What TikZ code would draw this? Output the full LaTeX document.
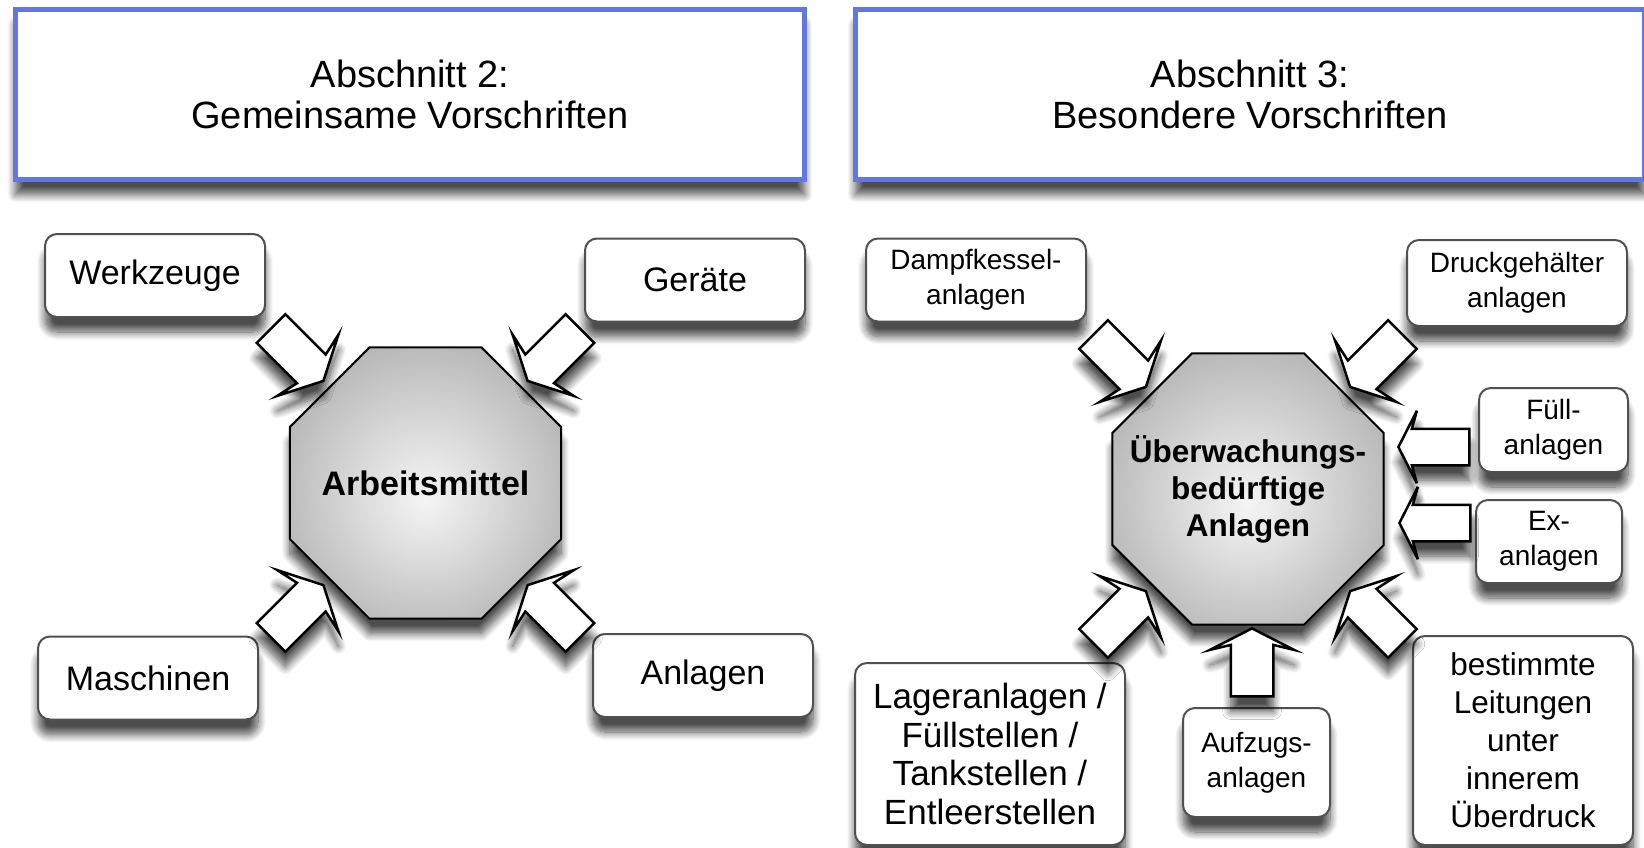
\documentclass[tikz,border=0pt]{standalone}
\usepackage{fontspec}
\setmainfont{Liberation Sans}
\usetikzlibrary{shapes.arrows, calc, shadows, shadows.blur}

\definecolor{headblue}{RGB}{98,118,228}
\definecolor{boxgray}{RGB}{80,80,80}
\pgfdeclareradialshading{hubshading}{\pgfpoint{0bp}{-3bp}}{color(0bp)=(white!96!black); color(12bp)=(white!86!black); color(30bp)=(white!70!black); color(50bp)=(white!60!black)}

\tikzset{
  soft/.style={blur shadow={shadow xshift=0pt, shadow yshift=-15pt, shadow blur radius=8pt,
    shadow blur steps=10, shadow opacity=70}},
  header/.style={draw=headblue, line width=5pt, fill=white, minimum width=789pt, minimum height=170pt,
    align=center, font=\fontsize{38}{41}\selectfont, soft},
  item/.style={draw=boxgray, line width=2pt, rounded corners=12pt, fill=white, align=center,
    inner sep=0pt, font=\fontsize{34}{40}\selectfont, soft},
  wide/.style={minimum width=220pt, minimum height=83pt},
  smalltext/.style={font=\fontsize{28}{35}\selectfont},
  hub/.style={draw=black, line width=2pt, shading=hubshading, soft},
  hubtext/.style={align=center, inner sep=0pt},
  fatarrow/.style={single arrow, draw=black, line width=2.5pt, fill=white,
    inner xsep=0pt, inner ysep=19pt, minimum height=74pt, single arrow head extend=23pt,
    single arrow tip angle=126, single arrow head indent=5pt, soft},
  flatarrow/.style={fatarrow, minimum height=71pt, inner ysep=17pt, single arrow head extend=18pt}
}
\newcommand{\octagon}[1]{%
  \draw[hub] ($(#1)+(22.5:146.7)$) \foreach \a in {67.5,112.5,...,337.5} {-- ($(#1)+(\a:146.7)$)} -- cycle;}

\begin{document}
\begin{tikzpicture}[x=1pt, y=1pt]
  \useasboundingbox (0,0) rectangle (1644,-847);
  \clip (0,0) rectangle (1644,-847);

  % Headers
  \node[header] (abs2) at (410,-94.5) {Abschnitt 2:\\Gemeinsame Vorschriften};
  \node[header] (abs3) at (1250,-94.5) {Abschnitt 3:\\Besondere Vorschriften};

  % Abschnitt 2: Arbeitsmittel
  \coordinate (arbeitMid) at (425.5,-483);
  \octagon{arbeitMid}
  \node[hubtext, font=\bfseries\fontsize{34}{40}\selectfont] (arbeit) at (arbeitMid) {Arbeitsmittel};
  \node[item, wide] (werk) at (155,-275.5) {Werkzeuge};
  \node[item, wide] (geraete) at (695,-280) {Geräte};
  \node[item, wide] (masch) at (148,-678) {Maschinen};
  \node[item, wide] (anlagen) at (703,-675.5) {Anlagen};

  \node[fatarrow, rotate=-45, anchor=tip] (inWerk) at ($(arbeitMid)+(135:143)$) {};
  \node[fatarrow, rotate=225, anchor=tip] (inGeraete) at ($(arbeitMid)+(45:143)$) {};
  \node[fatarrow, rotate=45, anchor=tip] (inMasch) at ($(arbeitMid)+(225:143)$) {};
  \node[fatarrow, rotate=135, anchor=tip] (inAnlagen) at ($(arbeitMid)+(315:143)$) {};

  % Abschnitt 3: ueberwachungsbeduerftige Anlagen
  \coordinate (ueberMid) at (1248,-489);
  \octagon{ueberMid}
  \node[hubtext, font=\bfseries\fontsize{31.5}{37}\selectfont] (ueber) at (ueberMid)
    {Überwachungs-\\bedürftige\\Anlagen};
  \node[item, wide, smalltext] (dampf) at (976,-280) {Dampfkessel-\\anlagen};
  \node[item, wide, smalltext, minimum height=86pt] (druck) at (1517,-283) {Druckgehälter\\anlagen};
  \node[item, smalltext, minimum width=149pt, minimum height=84pt] (fuell) at (1553.5,-430) {Füll-\\anlagen};
  \node[item, smalltext, minimum width=146pt, minimum height=83pt] (ex) at (1549,-541.5) {Ex-\\anlagen};
  \node[item, font=\fontsize{35}{38.5}\selectfont, minimum width=270pt, minimum height=182pt] (lager) at (990,-754)
    {Lageranlagen /\\Füllstellen /\\Tankstellen /\\Entleerstellen};
  \node[item, smalltext, minimum width=147pt, minimum height=109pt] (aufzug) at (1256.5,-762.5) {Aufzugs-\\anlagen};
  \node[item, font=\fontsize{31.5}{38}\selectfont, minimum width=220pt, minimum height=209pt] (leit) at (1523,-740.5)
    {bestimmte\\Leitungen\\unter\\innerem\\Überdruck};

  \node[fatarrow, rotate=-45, anchor=tip] (inDampf) at ($(ueberMid)+(135:143)$) {};
  \node[fatarrow, rotate=225, anchor=tip] (inDruck) at ($(ueberMid)+(45:143)$) {};
  \node[fatarrow, rotate=45, anchor=tip] (inLager) at ($(ueberMid)+(225:143)$) {};
  \node[fatarrow, rotate=135, anchor=tip] (inLeit) at ($(ueberMid)+(315:143)$) {};
  \node[flatarrow, rotate=180, anchor=tip] (inFuell) at ($(ueberMid)+(149,42)$) {};
  \node[flatarrow, rotate=180, anchor=tip] (inEx) at ($(ueberMid)+(150,-34)$) {};
  \node[fatarrow, rotate=90, anchor=tip, minimum height=68pt, inner ysep=20pt,
    single arrow head extend=21pt] (inAufzug) at ($(ueberMid)+(4,-138)$) {};
\end{tikzpicture}
\end{document}
